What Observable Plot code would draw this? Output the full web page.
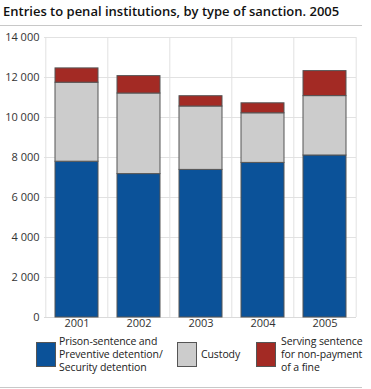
<!DOCTYPE html>
<html><head><meta charset="utf-8">
<script src="https://cdn.jsdelivr.net/npm/d3@7"></script>
<script src="https://cdn.jsdelivr.net/npm/@observablehq/plot@0.6"></script>
<style>
body{margin:0;background:#fff;font-family:"Open Sans",sans-serif;}
#wrap{position:relative;width:371px;height:389px;overflow:hidden;background:#fff;}
#title{position:absolute;left:3px;top:2px;font-size:13px;font-weight:600;color:#111;line-height:18px;white-space:nowrap;}
.hr{position:absolute;left:0;width:362px;height:1px;background:#c8c8c8;}
#chart{position:absolute;left:0;top:0;}
.leg{position:absolute;font-size:10.5px;color:#222;line-height:13px;white-space:nowrap;letter-spacing:-0.1px;}
.sw{position:absolute;box-sizing:border-box;border:1px solid #555;width:20px;height:25px;}
</style></head><body>
<div id="wrap">
  <div id="title">Entries to penal institutions, by type of sanction. 2005</div>
  <div class="hr" style="top:25px"></div>
  <div id="chart"></div>
  <div id="legend"></div>
  <div class="hr" style="top:387px"></div>
</div>
<script>
const years = ["2001","2002","2003","2004","2005"];
const series = ["Prison-sentence and Preventive detention/ Security detention","Custody","Serving sentence for non-payment of a fine"];
const prison = [7790, 7170, 7380, 7730, 8100];
const custody = [3950, 4030, 3170, 2480, 2970];
const fine = [715, 870, 515, 500, 1250];
const colors = ["#0b5299", "#cccccc", "#a32a24"];
const yTicks = [0, 2000, 4000, 6000, 8000, 10000, 12000, 14000];
const legendLines = [
  ["Prison-sentence and", "Preventive detention/", "Security detention"],
  ["Custody"],
  ["Serving sentence", "for non-payment", "of a fine"]
];

const values = [prison, custody, fine];
const table = [];
series.forEach((s, i) => years.forEach((y, j) => table.push({year: y, series: s, value: values[i][j]})));

const W = 371, H = 335, mL = 44, mR = 15;
const step = (W - mL - mR) / years.length;
const fmt = d => d3.format(",")(d).replace(/,/g, " ");

const chart = Plot.plot({
  width: W, height: H,
  marginLeft: mL, marginRight: mR, marginTop: 37, marginBottom: 18,
  style: {fontFamily: "'Open Sans', sans-serif", fontSize: "11px", color: "#333", background: "transparent"},
  x: {domain: years, paddingInner: 0.31, paddingOuter: 0.155, label: null, tickSize: 0, tickPadding: 2},
  y: {domain: [0, 14000], ticks: yTicks, tickFormat: fmt, label: null, tickSize: 0, tickPadding: 5},
  color: {domain: series, range: colors},
  marks: [
    Plot.gridY(yTicks, {stroke: "#e2e2e2", strokeOpacity: 1}),
    Plot.ruleX(years, {x: d => d, dx: -step / 2, stroke: "#e2e2e2"}),
    Plot.ruleX(years.slice(-1), {x: d => d, dx: step / 2, stroke: "#e2e2e2"}),
    Plot.ruleY([0], {stroke: "#dadada"}),
    Plot.barY(table, {x: "year", y: "value", fill: "series", order: series, stroke: "#555", strokeWidth: 1, inset: 0}),
    Plot.axisY({ticks: yTicks, tickFormat: fmt, tickSize: 0, tickPadding: 5, label: null}),
    Plot.axisX({tickSize: 0, tickPadding: 2, label: null})
  ]
});
document.getElementById("chart").appendChild(chart);

const legendPos = [
  {sx: 36, tx: 59},
  {sx: 177, tx: 201},
  {sx: 256, tx: 281}
];
const leg = document.getElementById("legend");
series.forEach((s, i) => {
  const sw = document.createElement("div");
  sw.className = "sw";
  sw.style.left = legendPos[i].sx + "px";
  sw.style.top = "342px";
  sw.style.background = colors[i];
  leg.appendChild(sw);
  const t = document.createElement("div");
  t.className = "leg";
  t.style.left = legendPos[i].tx + "px";
  const n = legendLines[i].length;
  t.style.top = (354.5 - n * 13 / 2) + "px";
  t.innerHTML = legendLines[i].join("<br>");
  leg.appendChild(t);
});
</script>
</body></html>
